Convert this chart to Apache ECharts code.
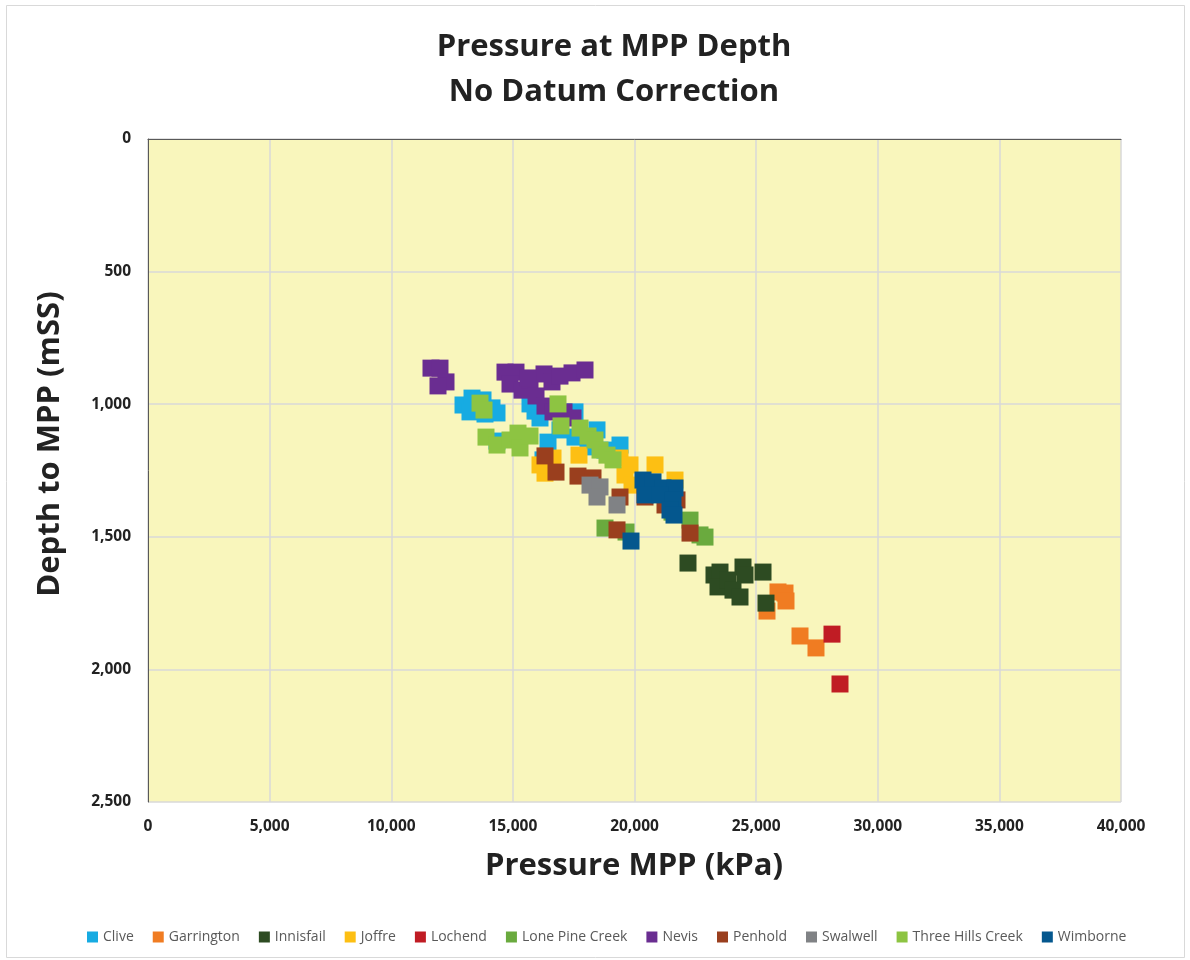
<!DOCTYPE html>
<html><head><meta charset="utf-8">
<script src="https://cdn.jsdelivr.net/npm/echarts@6/dist/echarts.min.js"></script>
<style>html,body{margin:0;padding:0;background:#fff}#c{width:1190px;height:960px}</style>
</head><body><div id="c"></div>
<script>
const seriesNames = ["Clive","Garrington","Innisfail","Joffre","Lochend","Lone Pine Creek","Nevis","Penhold","Swalwell","Three Hills Creek","Wimborne"];
const seriesColors = ["#17ABE2","#F07C22","#2D4B22","#FDBF13","#C01C24","#6AAA3E","#6A2D91","#9A3F1E","#808285","#8DC442","#04578E"];

const clive = [[12950,1003],[13320,977],[13772,984],[14142,1014],[14347,1033],[13237,1029],[13854,1037],[14347,1139],[15910,1026],[15704,999],[16115,1052],[16238,1210],[16444,1143],[17554,1029],[17554,1124],[18088,1161],[18787,1173],[19404,1154],[18458,1097],[16937,1097]];
const garrington = [[25447,1780],[25899,1708],[26187,1712],[26228,1742],[26804,1874],[27461,1919]];
const innisfail = [[22199,1599],[23268,1644],[23515,1633],[24460,1614],[24543,1644],[23433,1689],[23844,1663],[24049,1701],[24337,1727],[25283,1633],[25406,1750]];
const joffre = [[16321,1260],[16650,1203],[17718,1192],[19404,1203],[19815,1229],[19609,1267],[19897,1305],[20843,1229],[21665,1286],[16115,1229]];
const lochend = [[28119,1867],[28448,2055]];
const lonePineCreek = [[18787,1467],[19651,1482],[22282,1437],[22693,1493],[22898,1501],[21542,1407]];
const nevis = [[11634,864],[12004,864],[12251,916],[11922,931],[14676,879],[15128,879],[14882,924],[15375,947],[15704,909],[16280,886],[16608,916],[16937,894],[17431,882],[17965,871],[15951,969],[16321,1007],[16650,1029],[17102,1029],[17472,1052],[15622,901]];
const penhold = [[16321,1195],[16773,1256],[17677,1271],[18294,1278],[19404,1350],[20432,1350],[21254,1380],[21747,1361],[19281,1474],[22282,1486]];
const swalwell = [[18171,1305],[18582,1312],[18458,1350],[19281,1380]];
const threeHillsCreek = [[13649,996],[13813,1022],[13895,1124],[14347,1154],[14882,1135],[15211,1109],[15293,1165],[15704,1120],[16855,999],[16978,1082],[17760,1090],[18088,1120],[18376,1135],[18582,1173],[18869,1192],[19116,1210]];
const wimborne = [[20349,1286],[20761,1293],[21172,1316],[21665,1316],[20432,1342],[21048,1342],[21583,1361],[21459,1399],[21624,1418],[19856,1516]];

const allData = [clive,garrington,innisfail,joffre,lochend,lonePineCreek,nevis,penhold,swalwell,threeHillsCreek,wimborne];
const titleLines = ["Pressure at MPP Depth","No Datum Correction"];
const xTitle = "Pressure MPP (kPa)";
const yTitle = "Depth to MPP (mSS)";

const FONT = "'Open Sans', sans-serif";
const fmt = v => v.toLocaleString('en-US');

const chart = echarts.init(document.getElementById('c'), null, {renderer:'canvas'});
chart.setOption({
  animation:false,
  backgroundColor:'#fff',
  title:{text:titleLines.join('\n'), left:609, top:20, textAlign:'center',
    textStyle:{fontFamily:FONT,fontWeight:'bold',fontSize:31,color:'#222',lineHeight:45}},
  grid:{left:148,right:69,top:139,bottom:158,show:true,backgroundColor:'#F9F6BC',borderWidth:0},
  xAxis:{type:'value',min:0,max:40000,interval:5000,
    axisLine:{show:true,lineStyle:{color:'#595959',width:1}},
    axisTick:{show:false},
    splitLine:{show:true,lineStyle:{color:'#D9D9D9',width:1.5}},
    axisLabel:{formatter:fmt,fontFamily:FONT,fontWeight:'bold',fontSize:15.5,color:'#222',margin:17}},
  yAxis:{type:'value',inverse:true,min:0,max:2500,interval:500,
    axisLine:{show:true,lineStyle:{color:'#595959',width:1}},
    axisTick:{show:false},
    splitLine:{show:true,lineStyle:{color:'#D9D9D9',width:1.5}},
    axisLabel:{formatter:fmt,fontFamily:FONT,fontWeight:'bold',fontSize:15.5,color:'#222',margin:17}},
  legend:{bottom:11,left:82,itemWidth:11,itemHeight:11,itemGap:19,icon:'rect',
    textStyle:{fontFamily:FONT,fontSize:14,color:'#595959'},
    data:seriesNames},
  graphic:[
    {type:'rect',shape:{x:6.5,y:5.5,width:1178,height:952},style:{fill:'none',stroke:'#D9D9D9',lineWidth:1},silent:true},
    {type:'text',x:634,y:866,style:{text:xTitle,textAlign:'center',textVerticalAlign:'middle',font:"bold 31px 'Open Sans', sans-serif",fill:'#222'}},
    {type:'text',rotation:Math.PI/2,x:50,y:444,style:{text:yTitle,textAlign:'center',textVerticalAlign:'middle',font:"bold 31px 'Open Sans', sans-serif",fill:'#222'}}
  ],
  series: seriesNames.map((n,i)=>({name:n,type:'scatter',data:allData[i],symbol:'rect',symbolSize:17,
    itemStyle:{color:seriesColors[i],opacity:1}}))
});
</script></body></html>
